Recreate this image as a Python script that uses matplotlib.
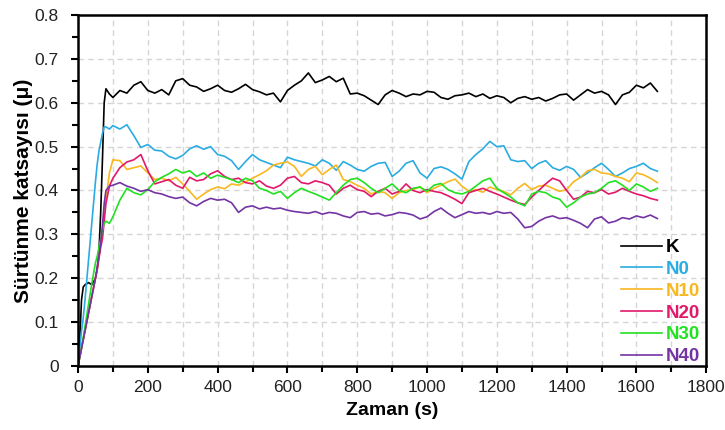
import numpy as np
import matplotlib
matplotlib.use("Agg")
import matplotlib.pyplot as plt
from matplotlib.ticker import MultipleLocator, FuncFormatter

# Sampling times (s): dense during run-in, then every 20 s
t_early = [0, 5, 10, 15, 20, 30, 40, 50, 55, 60, 65, 70, 75, 80, 90]
t_main = list(range(100, 1661, 20))
time = t_early + t_main

labels = ["K", "N0", "N10", "N20", "N30", "N40"]
colors = ["#000000", "#2aace2", "#f7b820", "#e2186a", "#22e022", "#7434a4"]

K = [0.0, 0.06, 0.15, 0.18, 0.185, 0.19, 0.185, 0.20, 0.22, 0.26, 0.35, 0.47, 0.60, 0.632, 0.62,
     0.612, 0.628, 0.622, 0.640, 0.648, 0.628, 0.622, 0.630, 0.618, 0.650,
     0.655, 0.640, 0.636, 0.626, 0.632, 0.640, 0.628, 0.624, 0.632, 0.642,
     0.630, 0.625, 0.618, 0.622, 0.602, 0.628, 0.640, 0.650, 0.668, 0.646,
     0.652, 0.660, 0.648, 0.656, 0.620, 0.622, 0.616, 0.606, 0.596, 0.618,
     0.628, 0.622, 0.614, 0.620, 0.618, 0.626, 0.624, 0.612, 0.608, 0.616,
     0.618, 0.622, 0.614, 0.620, 0.610, 0.616, 0.612, 0.600, 0.610, 0.614,
     0.608, 0.612, 0.604, 0.610, 0.618, 0.620, 0.606, 0.618, 0.630, 0.622,
     0.626, 0.618, 0.596, 0.618, 0.624, 0.640, 0.634, 0.645, 0.626]

N0 = [0.0, 0.04, 0.08, 0.11, 0.15, 0.24, 0.33, 0.42, 0.46, 0.49, 0.51, 0.53, 0.545, 0.545, 0.54,
      0.548, 0.540, 0.550, 0.525, 0.498, 0.505, 0.492, 0.490, 0.478, 0.472,
      0.480, 0.495, 0.502, 0.494, 0.500, 0.482, 0.478, 0.468, 0.448, 0.466,
      0.482, 0.470, 0.464, 0.458, 0.452, 0.476, 0.470, 0.466, 0.462, 0.456,
      0.470, 0.462, 0.446, 0.466, 0.458, 0.448, 0.444, 0.455, 0.462, 0.464,
      0.432, 0.444, 0.462, 0.468, 0.440, 0.428, 0.450, 0.454, 0.448, 0.438,
      0.426, 0.466, 0.482, 0.495, 0.512, 0.500, 0.502, 0.470, 0.466, 0.468,
      0.450, 0.462, 0.468, 0.452, 0.446, 0.455, 0.448, 0.430, 0.440, 0.452,
      0.462, 0.448, 0.432, 0.440, 0.450, 0.455, 0.462, 0.450, 0.444]

N10 = [0.0, 0.02, 0.04, 0.06, 0.08, 0.12, 0.16, 0.20, 0.22, 0.25, 0.28, 0.31, 0.35, 0.38, 0.44,
       0.470, 0.468, 0.448, 0.452, 0.456, 0.440, 0.425, 0.428, 0.422, 0.430,
       0.415, 0.398, 0.380, 0.392, 0.402, 0.408, 0.404, 0.415, 0.412, 0.420,
       0.428, 0.436, 0.445, 0.458, 0.462, 0.465, 0.455, 0.432, 0.448, 0.455,
       0.436, 0.448, 0.458, 0.425, 0.420, 0.412, 0.405, 0.392, 0.398, 0.395,
       0.382, 0.395, 0.400, 0.402, 0.408, 0.395, 0.405, 0.412, 0.420, 0.426,
       0.410, 0.398, 0.402, 0.396, 0.408, 0.402, 0.398, 0.390, 0.405, 0.416,
       0.402, 0.410, 0.412, 0.405, 0.398, 0.402, 0.420, 0.430, 0.445, 0.448,
       0.440, 0.438, 0.432, 0.428, 0.420, 0.440, 0.436, 0.428, 0.418]

N20 = [0.0, 0.02, 0.04, 0.06, 0.08, 0.12, 0.16, 0.20, 0.22, 0.245, 0.27, 0.29, 0.33, 0.37, 0.41,
       0.428, 0.452, 0.465, 0.470, 0.482, 0.445, 0.415, 0.420, 0.425, 0.412,
       0.405, 0.430, 0.422, 0.425, 0.438, 0.445, 0.432, 0.425, 0.428, 0.418,
       0.415, 0.422, 0.410, 0.405, 0.412, 0.428, 0.432, 0.418, 0.415, 0.422,
       0.418, 0.412, 0.392, 0.405, 0.412, 0.402, 0.398, 0.386, 0.398, 0.405,
       0.392, 0.398, 0.415, 0.400, 0.395, 0.402, 0.398, 0.395, 0.388, 0.380,
       0.370, 0.395, 0.400, 0.405, 0.398, 0.392, 0.385, 0.378, 0.372, 0.368,
       0.385, 0.400, 0.415, 0.428, 0.422, 0.400, 0.380, 0.385, 0.398, 0.395,
       0.402, 0.392, 0.396, 0.405, 0.398, 0.392, 0.388, 0.382, 0.378]

N30 = [0.0, 0.02, 0.04, 0.065, 0.09, 0.14, 0.19, 0.235, 0.25, 0.27, 0.29, 0.31, 0.325, 0.33, 0.325,
       0.340, 0.378, 0.405, 0.395, 0.390, 0.402, 0.420, 0.430, 0.438, 0.448,
       0.440, 0.445, 0.432, 0.440, 0.428, 0.435, 0.430, 0.425, 0.418, 0.428,
       0.422, 0.405, 0.400, 0.392, 0.398, 0.382, 0.395, 0.405, 0.398, 0.392,
       0.385, 0.378, 0.395, 0.412, 0.425, 0.428, 0.418, 0.405, 0.395, 0.405,
       0.415, 0.400, 0.395, 0.405, 0.408, 0.398, 0.412, 0.416, 0.402, 0.395,
       0.392, 0.398, 0.410, 0.422, 0.428, 0.405, 0.395, 0.385, 0.372, 0.365,
       0.392, 0.398, 0.395, 0.385, 0.380, 0.362, 0.372, 0.385, 0.392, 0.395,
       0.405, 0.418, 0.422, 0.412, 0.400, 0.415, 0.408, 0.398, 0.405]

N40 = [0.0, 0.02, 0.04, 0.06, 0.08, 0.12, 0.16, 0.20, 0.225, 0.25, 0.28, 0.32, 0.37, 0.40, 0.41,
       0.412, 0.418, 0.410, 0.405, 0.398, 0.402, 0.395, 0.392, 0.386, 0.382,
       0.385, 0.372, 0.365, 0.375, 0.382, 0.378, 0.380, 0.372, 0.350, 0.362,
       0.365, 0.358, 0.362, 0.358, 0.360, 0.355, 0.352, 0.350, 0.348, 0.352,
       0.346, 0.350, 0.348, 0.342, 0.338, 0.350, 0.352, 0.346, 0.348, 0.342,
       0.345, 0.350, 0.348, 0.344, 0.335, 0.340, 0.352, 0.360, 0.348, 0.338,
       0.345, 0.352, 0.348, 0.350, 0.346, 0.352, 0.348, 0.350, 0.335, 0.315,
       0.318, 0.330, 0.338, 0.342, 0.336, 0.338, 0.332, 0.325, 0.315, 0.335,
       0.340, 0.326, 0.330, 0.338, 0.335, 0.342, 0.338, 0.344, 0.336]

series = [K, N0, N10, N20, N30, N40]

plt.rcParams["font.family"] = ["Liberation Sans", "DejaVu Sans"]

fig = plt.figure(figsize=(7.25, 4.3), dpi=100)
ax = fig.add_axes([0.1076, 0.149, 0.8665, 0.816])

for vals, lab, col in zip(series, labels, colors):
    ax.plot(time, vals, color=col, lw=1.2, label=lab)

ax.set_xlim(0, 1800)
ax.set_ylim(0, 0.8)
ax.xaxis.set_major_locator(MultipleLocator(200))
ax.xaxis.set_minor_locator(MultipleLocator(100))
ax.yaxis.set_major_locator(MultipleLocator(0.1))
ax.yaxis.set_minor_locator(MultipleLocator(0.05))
ax.yaxis.set_major_formatter(FuncFormatter(lambda v, p: "0" if abs(v) < 1e-9 else f"{v:.1f}"))

# dashed grid every 100 s and every 0.1
for xv in range(100, 1800, 100):
    ax.axvline(xv, color="#d6d6d6", lw=1.0, ls=(0, (4, 3)), zorder=0)
for yv in np.arange(0.1, 0.8, 0.1):
    ax.axhline(yv, color="#d6d6d6", lw=1.0, ls=(0, (4, 3)), zorder=0)

for sp in ax.spines.values():
    sp.set_linewidth(1.8)
    sp.set_color("black")

ax.tick_params(axis="both", which="major", direction="out", length=5, width=1.5,
               labelsize=12.5, colors="black", labelcolor="#222222")
ax.tick_params(axis="y", which="major", pad=9)
ax.tick_params(axis="x", which="major", pad=5)
ax.tick_params(axis="both", which="minor", direction="out", length=4, width=1.5)

ax.set_xlabel("Zaman (s)", fontsize=14, fontweight="bold",
              family=["Liberation Sans Narrow", "Liberation Sans"], labelpad=5)
ax.set_ylabel("Sürtünme katsayısı (μ)", fontsize=15, fontweight="bold", labelpad=1)

leg = ax.legend(loc="lower right", bbox_to_anchor=(1.008, -0.03), frameon=False,
                handlelength=2.2, handletextpad=0.2, labelspacing=0.25,
                prop={"weight": "bold", "size": 13.5}, labelcolor=colors,
                borderaxespad=0.2)

fig.savefig("out.png", dpi=100, facecolor="white")
